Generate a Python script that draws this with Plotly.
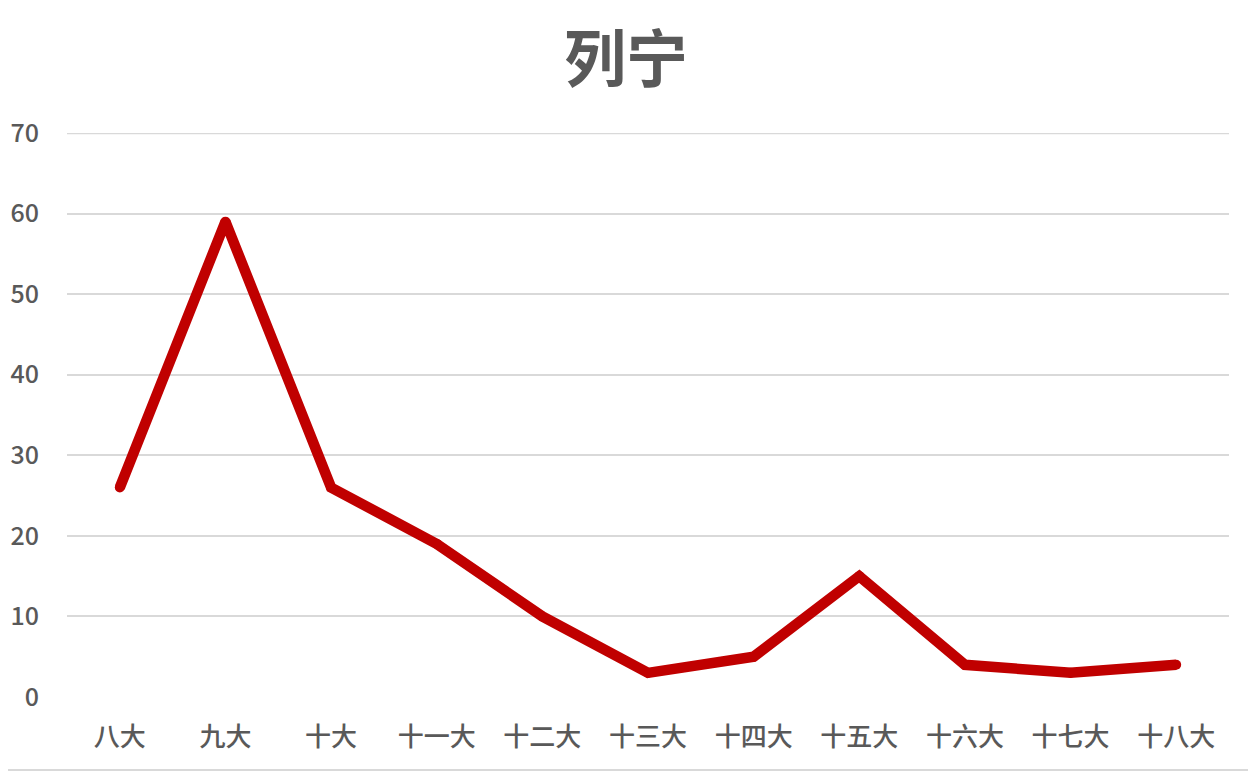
import plotly.graph_objects as go

categories = ["八大", "九大", "十大", "十一大", "十二大", "十三大", "十四大", "十五大", "十六大", "十七大", "十八大"]
values = [26, 59, 26, 19, 10, 3, 5, 15, 4, 3, 4]
y_ticks = [0, 10, 20, 30, 40, 50, 60, 70]

font_family = "Noto Sans CJK SC, Noto Sans, sans-serif"
text_color = "#595959"
line_color = "#C00000"

fig = go.Figure()
fig.add_trace(go.Scatter(
    x=categories, y=values, mode="lines+markers",
    line=dict(color=line_color, width=10.5),
    marker=dict(color=line_color, size=10, line=dict(width=0)),
    hoverinfo="x+y",
))

W, H = 1256, 772
off = 8  # page body margin
ml, mt = 67 - off, 133 - off
pw, ph = 1162, 564
mr = W - ml - pw
mb = H - mt - ph

grid_color = "#d9d9d9"

fig.update_layout(
    width=W, height=H,
    margin=dict(l=ml, r=mr, t=mt, b=mb, autoexpand=False),
    paper_bgcolor="white", plot_bgcolor="white",
    showlegend=False,
    title=dict(text="<b>列宁</b>", x=(626 - off) / W, xanchor="center", y=1 - (60 - off) / H, yanchor="middle",
               font=dict(family=font_family, size=62, color=text_color)),
    font=dict(family=font_family, color=text_color),
    xaxis=dict(type="category", range=[-0.5, len(categories) - 0.5], showgrid=False, zeroline=False,
               showline=False, ticks="", tickfont=dict(size=26, color=text_color, weight=500),
               ticklabelstandoff=22),
    yaxis=dict(range=[y_ticks[0], y_ticks[-1]], tickvals=y_ticks, showgrid=True, gridcolor=grid_color,
               gridwidth=1.5, zeroline=False, showline=False, ticks="",
               tickfont=dict(size=25, color=text_color, weight=500), ticklabelstandoff=27),
    shapes=[
        dict(type="line", xref="paper", yref="y", x0=0, x1=1, y0=y_ticks[-1], y1=y_ticks[-1],
             line=dict(color=grid_color, width=2.5), layer="below"),
        dict(type="line", xref="paper", yref="paper",
             x0=-ml / pw, x1=1 + mr / pw,
             y0=-(770 - off - mt - ph) / ph, y1=-(770 - off - mt - ph) / ph,
             line=dict(color=grid_color, width=2)),
    ],
)

fig.write_html("out.html")
